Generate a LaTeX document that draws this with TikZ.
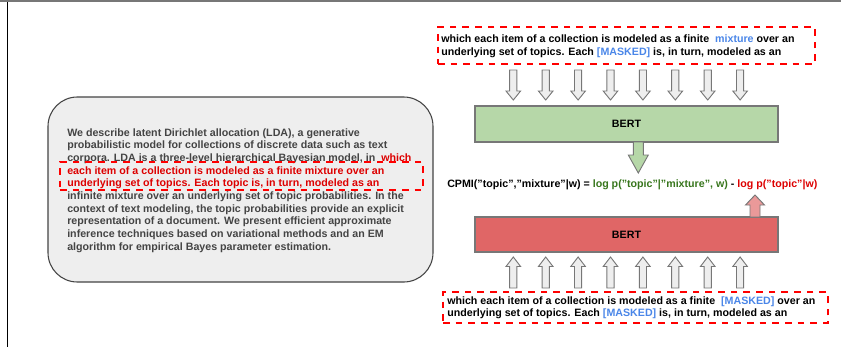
\documentclass[tikz,border=0pt]{standalone}
\usepackage{fontspec}
\setmainfont{Liberation Sans}
\usepackage{tikz}
\usetikzlibrary{positioning}

\definecolor{panelfill}{HTML}{EEEEEE}
\definecolor{paneledge}{HTML}{444444}
\definecolor{bodygray}{HTML}{444444}
\definecolor{dashred}{HTML}{FF0000}
\definecolor{hotred}{HTML}{DD0000}
\definecolor{maskblue}{HTML}{4A86E8}
\definecolor{loggreen}{HTML}{38761D}
\definecolor{bertgreen}{HTML}{B6D7A8}
\definecolor{bertred}{HTML}{E06666}
\definecolor{arrowred}{HTML}{EA9999}
\definecolor{edgegray}{HTML}{777777}

% block arrow: style, tail, length, shaft half width, head half width, head length
\newcommand{\blockarr}[6]{%
  \filldraw[#1] #2 ++(-#4,0) -- ++(0,{(#3)-(#6)}) -- ++({-(#5)+(#4)},0)
    -- ++(#5,#6) -- ++(#5,{-(#6)}) -- ++({-(#5)+(#4)},0)
    -- ++(0,{-(#3)+(#6)}) -- cycle;
}

\begin{document}
\begin{tikzpicture}[x=0.75pt, y=-0.75pt,
  txt/.style={font=\bfseries\fontsize{8}{9.5}\selectfont, inner sep=0pt, align=left, anchor=north west},
  maskbox/.style={draw=dashred, line width=1.8pt, dash pattern=on 5pt off 4.5pt, inner sep=0pt},
  bert/.style={draw=edgegray, line width=0.8pt, inner sep=0pt, font=\bfseries\fontsize{8}{9.5}\selectfont,
    minimum width=227.25pt},
  grayarr/.style={fill=panelfill, draw=edgegray, line width=0.7pt},
]
\useasboundingbox (0,0) rectangle (841,347);

\draw[edgegray, line width=1.5pt] (0,1) -- (841,1);
\draw[black, line width=0.6pt] (7,2) -- (7,347);

% abstract panel
\node[draw=paneledge, fill=panelfill, line width=0.8pt, rounded corners=22pt,
  minimum width=288.75pt, minimum height=138.75pt] (abstract) at (240.5,189.5) {};
\node[txt, text=bodygray] (abstxt) at (67,128) {%
We describe latent Dirichlet allocation (LDA), a generative\\
probabilistic model for collections of discrete data such as text\\
corpora. LDA is a three-level hierarchical Bayesian model, in\ \ \textcolor{hotred}{which}\\
\textcolor{hotred}{each item of a collection is modeled as a finite mixture over an}\\
\textcolor{hotred}{underlying set of topics. Each topic is, in turn, modeled as an}\\
infinite mixture over an underlying set of topic probabilities. In the\\
context of text modeling, the topic probabilities provide an explicit\\
representation of a document. We present efficient approximate\\
inference techniques based on variational methods and an EM\\
algorithm for empirical Bayes parameter estimation.};
\node[maskbox, minimum width=272.25pt, minimum height=21pt] (span) at (241.5,176) {};

% masked inputs
\node[maskbox, minimum width=282.75pt, minimum height=27.75pt] (ctxtop) at (626.5,45.5) {};
\node[txt, font=\bfseries\fontsize{8}{10}\selectfont] (toptxt) at (441,34.3) {%
which each item of a collection is modeled as a finite\ \ \textcolor{maskblue}{mixture} over an\\
underlying set of topics. Each \textcolor{maskblue}{[MASKED]} is, in turn, modeled as an};

\node[maskbox, minimum width=288.75pt, minimum height=23.25pt] (ctxbot) at (635.5,307.5) {};
\node[txt, font=\bfseries\fontsize{8}{9}\selectfont] (bottxt) at (447,296.7) {%
which each item of a collection is modeled as a finite\ \ \textcolor{maskblue}{[MASKED]} over an\\
underlying set of topics. Each \textcolor{maskblue}{[MASKED]} is, in turn, modeled as an};

% encoders
\node[bert, fill=bertgreen, minimum height=27pt] (bertA) at (626.5,124) {BERT};
\node[bert, fill=bertred, minimum height=26.25pt] (bertB) at (626.5,234.5) {BERT};

\foreach \i in {0,...,7} {
  \blockarr{grayarr}{({513.3+32.4*\i},70)}{30}{3.6}{7.3}{9}
  \blockarr{grayarr}{({513.3+32.4*\i},288)}{-31}{3.6}{7.3}{-9.5}
}
\blockarr{fill=bertgreen, draw=edgegray, line width=0.7pt}{(638.3,142)}{31}{5}{10}{18}
\blockarr{fill=arrowred, draw=edgegray, line width=0.7pt}{(755,217)}{-22}{5}{9.5}{-10}

% score
\node[inner sep=0pt, anchor=base west, font=\bfseries\fontsize{8}{9.5}\selectfont] (cpmi) at (447,187.1)
  {CPMI("topic","mixture"|w) = \textcolor{loggreen}{log p("topic"|"mixture", w)} - \textcolor{hotred}{log p("topic"|w)}};
\end{tikzpicture}
\end{document}
